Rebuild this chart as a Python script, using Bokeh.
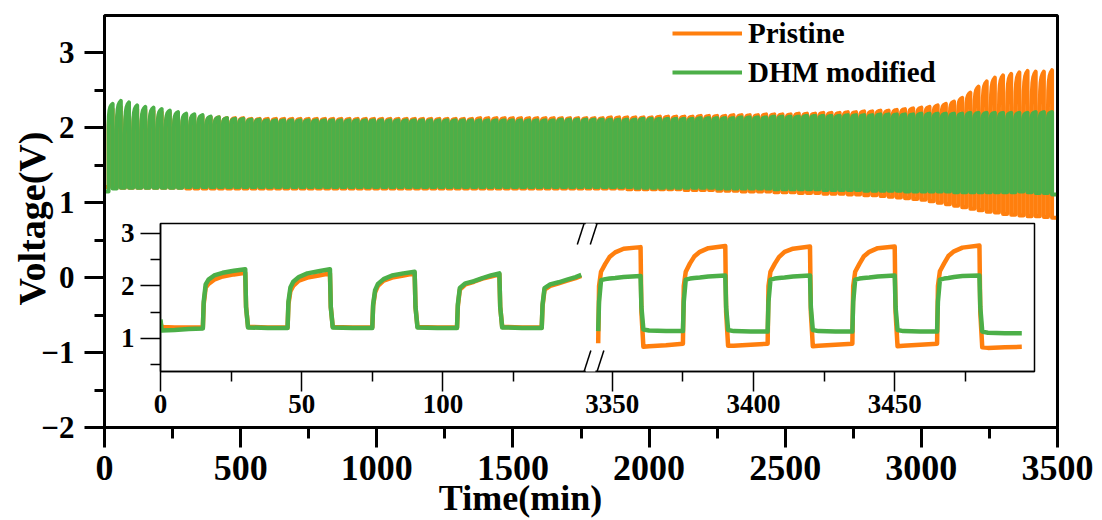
import math

from bokeh.core.properties import value
from bokeh.embed import file_html
from bokeh.models import Arrow, FixedTicker, Legend, LegendItem, Range1d
from bokeh.plotting import figure
from bokeh.resources import INLINE

FONT = "Liberation Serif"
ORANGE = "#FF7F0E"
GREEN = "#4CAF48"

# ---------------------------------------------------------------------------
# Galvanostatic cycling: 15 min discharge followed by 15 min charge per cycle
# ---------------------------------------------------------------------------
PERIOD = 30
HALF = 15

# End-of-charge voltage of every cycle (V)
pristine_peak = [
    2.25, 2.28, 2.27, 2.25, 2.24, 2.22, 2.21, 2.20, 2.18, 2.17,
    2.16, 2.15, 2.14, 2.14, 2.13, 2.13, 2.13, 2.12, 2.12, 2.12,
    2.12, 2.12, 2.12, 2.12, 2.12, 2.12, 2.12, 2.12, 2.12, 2.12,
    2.12, 2.12, 2.12, 2.12, 2.12, 2.12, 2.12, 2.12, 2.12, 2.12,
    2.12, 2.12, 2.12, 2.12, 2.12, 2.13, 2.13, 2.13, 2.13, 2.13,
    2.13, 2.13, 2.13, 2.13, 2.13, 2.13, 2.13, 2.13, 2.13, 2.13,
    2.13, 2.14, 2.14, 2.14, 2.14, 2.14, 2.14, 2.15, 2.15, 2.15,
    2.15, 2.15, 2.16, 2.16, 2.16, 2.16, 2.17, 2.17, 2.17, 2.17,
    2.18, 2.18, 2.18, 2.18, 2.19, 2.19, 2.19, 2.20, 2.20, 2.20,
    2.21, 2.21, 2.22, 2.22, 2.23, 2.23, 2.24, 2.25, 2.26, 2.27,
    2.28, 2.30, 2.32, 2.35, 2.40, 2.47, 2.55, 2.62, 2.67, 2.70,
    2.72, 2.74, 2.76, 2.75, 2.75, 2.77,
]
dhm_peak = [
    2.32, 2.36, 2.34, 2.30, 2.28, 2.27, 2.25, 2.23, 2.21, 2.19,
    2.18, 2.17, 2.15, 2.14, 2.13, 2.12, 2.12, 2.11, 2.11, 2.10,
    2.10, 2.10, 2.10, 2.10, 2.10, 2.10, 2.10, 2.10, 2.10, 2.10,
    2.10, 2.10, 2.10, 2.10, 2.10, 2.10, 2.10, 2.10, 2.10, 2.10,
    2.10, 2.10, 2.10, 2.10, 2.10, 2.10, 2.10, 2.10, 2.10, 2.10,
    2.10, 2.10, 2.10, 2.10, 2.10, 2.11, 2.11, 2.11, 2.11, 2.11,
    2.11, 2.11, 2.11, 2.11, 2.11, 2.12, 2.12, 2.12, 2.12, 2.12,
    2.12, 2.12, 2.13, 2.13, 2.13, 2.13, 2.13, 2.14, 2.14, 2.14,
    2.14, 2.15, 2.15, 2.15, 2.15, 2.16, 2.16, 2.16, 2.16, 2.16,
    2.17, 2.17, 2.17, 2.17, 2.18, 2.18, 2.18, 2.18, 2.18, 2.19,
    2.19, 2.19, 2.19, 2.19, 2.19, 2.20, 2.20, 2.20, 2.20, 2.20,
    2.20, 2.20, 2.20, 2.21, 2.21, 2.21,
]

# Voltage reached right after the step to charging current (V)
pristine_jump = [
    1.97, 1.90, 1.88, 1.93, 1.94, 1.96, 1.97, 1.98, 1.99, 2.00,
    2.01, 2.02, 2.03, 2.04, 2.05, 2.06, 2.07, 2.07, 2.07, 2.07,
    2.07, 2.07, 2.07, 2.07, 2.07, 2.07, 2.07, 2.07, 2.07, 2.07,
    2.07, 2.07, 2.07, 2.07, 2.07, 2.07, 2.07, 2.07, 2.07, 2.07,
    2.07, 2.07, 2.07, 2.07, 2.07, 2.08, 2.08, 2.08, 2.08, 2.08,
    2.08, 2.08, 2.08, 2.08, 2.08, 2.08, 2.08, 2.08, 2.08, 2.08,
    2.08, 2.09, 2.09, 2.09, 2.09, 2.09, 2.09, 2.10, 2.10, 2.10,
    2.10, 2.10, 2.11, 2.11, 2.11, 2.11, 2.12, 2.12, 2.12, 2.12,
    2.13, 2.13, 2.13, 2.13, 2.14, 2.14, 2.14, 2.15, 2.15, 2.15,
    2.16, 2.16, 2.16, 2.16, 2.17, 2.17, 2.17, 2.18, 2.18, 2.18,
    2.18, 2.19, 2.19, 2.20, 2.21, 2.22, 2.23, 2.24, 2.25, 2.26,
    2.27, 2.27, 2.27, 2.27, 2.27, 2.27,
]
dhm_jump = [
    2.02, 1.97, 1.92, 1.96, 1.96, 1.98, 1.99, 2.00, 2.01, 2.02,
    2.03, 2.04, 2.04, 2.05, 2.05, 2.05, 2.06, 2.06, 2.06, 2.06,
    2.06, 2.06, 2.06, 2.06, 2.06, 2.06, 2.06, 2.06, 2.06, 2.06,
    2.06, 2.06, 2.06, 2.06, 2.06, 2.06, 2.06, 2.06, 2.06, 2.06,
    2.06, 2.06, 2.06, 2.06, 2.06, 2.06, 2.06, 2.06, 2.06, 2.06,
    2.06, 2.06, 2.06, 2.06, 2.06, 2.07, 2.07, 2.07, 2.07, 2.07,
    2.07, 2.07, 2.07, 2.07, 2.07, 2.08, 2.08, 2.08, 2.08, 2.08,
    2.08, 2.08, 2.09, 2.09, 2.09, 2.09, 2.09, 2.10, 2.10, 2.10,
    2.10, 2.11, 2.11, 2.11, 2.11, 2.12, 2.12, 2.12, 2.12, 2.12,
    2.12, 2.12, 2.12, 2.12, 2.13, 2.13, 2.13, 2.13, 2.13, 2.13,
    2.13, 2.13, 2.13, 2.13, 2.13, 2.13, 2.13, 2.13, 2.13, 2.13,
    2.12, 2.12, 2.12, 2.13, 2.13, 2.13,
]

# Discharge plateau voltage of every cycle (V); one more than the charges
pristine_trough = [
    1.21, 1.20, 1.20, 1.20, 1.20, 1.20, 1.20, 1.20, 1.20, 1.20,
    1.19, 1.19, 1.19, 1.19, 1.19, 1.19, 1.19, 1.19, 1.19, 1.19,
    1.19, 1.19, 1.19, 1.19, 1.19, 1.19, 1.19, 1.19, 1.19, 1.19,
    1.19, 1.19, 1.19, 1.19, 1.19, 1.19, 1.19, 1.19, 1.19, 1.19,
    1.19, 1.19, 1.19, 1.19, 1.19, 1.19, 1.19, 1.19, 1.19, 1.19,
    1.19, 1.19, 1.19, 1.19, 1.19, 1.19, 1.19, 1.19, 1.19, 1.19,
    1.19, 1.19, 1.19, 1.19, 1.18, 1.18, 1.18, 1.18, 1.18, 1.18,
    1.18, 1.17, 1.17, 1.17, 1.17, 1.16, 1.16, 1.16, 1.15, 1.15,
    1.15, 1.15, 1.14, 1.14, 1.14, 1.13, 1.13, 1.13, 1.12, 1.12,
    1.12, 1.11, 1.11, 1.10, 1.10, 1.09, 1.08, 1.07, 1.06, 1.05,
    1.04, 1.02, 1.00, 0.98, 0.96, 0.94, 0.92, 0.90, 0.88, 0.87,
    0.85, 0.84, 0.83, 0.82, 0.82, 0.81, 0.80,
]
dhm_trough = [
    1.15, 1.19, 1.20, 1.20, 1.20, 1.20, 1.20, 1.20, 1.20, 1.20,
    1.21, 1.21, 1.21, 1.21, 1.21, 1.21, 1.21, 1.21, 1.21, 1.21,
    1.21, 1.21, 1.21, 1.21, 1.21, 1.21, 1.21, 1.21, 1.21, 1.21,
    1.21, 1.21, 1.21, 1.21, 1.21, 1.21, 1.21, 1.21, 1.21, 1.21,
    1.21, 1.21, 1.21, 1.21, 1.21, 1.21, 1.21, 1.21, 1.21, 1.21,
    1.21, 1.21, 1.21, 1.21, 1.21, 1.21, 1.21, 1.21, 1.21, 1.21,
    1.21, 1.21, 1.21, 1.21, 1.21, 1.20, 1.20, 1.20, 1.20, 1.20,
    1.20, 1.20, 1.20, 1.20, 1.20, 1.19, 1.19, 1.19, 1.19, 1.19,
    1.19, 1.19, 1.18, 1.18, 1.18, 1.18, 1.18, 1.18, 1.17, 1.17,
    1.17, 1.17, 1.17, 1.16, 1.16, 1.16, 1.16, 1.16, 1.15, 1.15,
    1.15, 1.15, 1.15, 1.15, 1.14, 1.14, 1.14, 1.14, 1.14, 1.14,
    1.14, 1.14, 1.15, 1.14, 1.13, 1.13, 1.11,
]

# Shape of a charge step: minutes after the current step and the share of
# the rise from the step voltage to the end-of-charge voltage
charge_profile_min = [0, 1, 3, 6, 10, 15]
charge_profile_share = [0.0, 0.45, 0.70, 0.85, 0.94, 1.0]

# ---------------------------------------------------------------------------
# Inset: first cycles and last cycles at full resolution
# ---------------------------------------------------------------------------
early_t = [
    0, 0.4, 5, 10, 15,
    15.3, 16, 17, 19, 22, 26, 30, 30.3, 31, 38, 45,
    45.3, 46, 47, 49, 52, 56, 60, 60.3, 61, 68, 75,
    75.3, 76, 77, 79, 82, 86, 90, 90.3, 91, 98, 105,
    105.3, 106, 108, 111, 114, 117, 120, 120.3, 121, 128, 135,
    135.3, 136, 138, 141, 144, 147, 149,
]
early_pristine = [
    1.30, 1.22, 1.21, 1.21, 1.21,
    1.65, 1.97, 2.04, 2.12, 2.18, 2.22, 2.25, 1.60, 1.22, 1.21, 1.21,
    1.65, 1.90, 2.00, 2.10, 2.16, 2.20, 2.24, 1.60, 1.22, 1.21, 1.21,
    1.62, 1.88, 2.00, 2.10, 2.16, 2.20, 2.24, 1.60, 1.22, 1.21, 1.21,
    1.62, 1.93, 2.03, 2.08, 2.14, 2.18, 2.22, 1.60, 1.22, 1.21, 1.21,
    1.62, 1.93, 2.00, 2.05, 2.10, 2.15, 2.19,
]
early_dhm = [
    1.36, 1.15, 1.16, 1.18, 1.19,
    1.70, 2.03, 2.12, 2.20, 2.25, 2.29, 2.32, 1.60, 1.21, 1.20, 1.20,
    1.70, 1.97, 2.08, 2.17, 2.24, 2.28, 2.32, 1.60, 1.21, 1.20, 1.20,
    1.65, 1.92, 2.04, 2.13, 2.20, 2.24, 2.27, 1.60, 1.21, 1.20, 1.20,
    1.65, 1.96, 2.05, 2.09, 2.15, 2.20, 2.24, 1.60, 1.21, 1.20, 1.20,
    1.65, 1.96, 2.03, 2.07, 2.12, 2.17, 2.21,
]

late_t = [
    3345, 3345.3, 3346, 3347.5, 3349, 3351, 3354, 3360, 3360.3, 3361, 3363, 3369,
    3375, 3375.3, 3376, 3377.5, 3379, 3381, 3384, 3390, 3390.3, 3391, 3393, 3399,
    3405, 3405.3, 3406, 3407.5, 3409, 3411, 3414, 3420, 3420.3, 3421, 3423, 3429,
    3435, 3435.3, 3436, 3437.5, 3439, 3441, 3444, 3450, 3450.3, 3451, 3453, 3459,
    3465, 3465.3, 3466, 3467.5, 3469, 3471, 3474, 3480, 3480.3, 3481, 3483, 3489,
    3495,
]
late_pristine = [
    0.91, 2.00, 2.27, 2.42, 2.55, 2.64, 2.71, 2.74, 1.50, 0.84, 0.85, 0.87,
    0.90, 2.00, 2.27, 2.43, 2.56, 2.65, 2.72, 2.76, 1.50, 0.86, 0.86, 0.88,
    0.90, 2.00, 2.27, 2.42, 2.55, 2.65, 2.71, 2.75, 1.50, 0.85, 0.86, 0.88,
    0.90, 2.00, 2.27, 2.42, 2.56, 2.65, 2.72, 2.75, 1.50, 0.85, 0.86, 0.88,
    0.90, 2.00, 2.28, 2.43, 2.57, 2.66, 2.73, 2.77, 1.50, 0.83, 0.82, 0.83,
    0.84,
]
late_dhm = [
    1.14, 1.70, 2.11, 2.13, 2.14, 2.15, 2.17, 2.19, 1.60, 1.17, 1.15, 1.14,
    1.14, 1.70, 2.12, 2.14, 2.15, 2.16, 2.18, 2.20, 1.60, 1.16, 1.14, 1.13,
    1.13, 1.70, 2.12, 2.14, 2.15, 2.16, 2.18, 2.20, 1.60, 1.16, 1.14, 1.13,
    1.13, 1.70, 2.12, 2.14, 2.15, 2.16, 2.18, 2.20, 1.60, 1.16, 1.14, 1.13,
    1.13, 1.70, 2.12, 2.14, 2.15, 2.17, 2.19, 2.20, 1.60, 1.13, 1.11, 1.10,
    1.10,
]

main_x_ticks = [0, 500, 1000, 1500, 2000, 2500, 3000, 3500]
main_x_minor = [250, 750, 1250, 1750, 2250, 2750, 3250]
main_y_ticks = [-2, -1, 0, 1, 2, 3]
main_y_minor = [-1.5, -0.5, 0.5, 1.5, 2.5]

inset_left_ticks = [0, 50, 100]
inset_left_minor = [25, 75, 125]
inset_right_ticks = [3350, 3400, 3450]
inset_right_minor = [3375, 3425, 3475]
inset_y_ticks = [1, 2, 3]
inset_y_minor = [0.5, 1.5, 2.5]

# Broken time axis of the inset: left part ends, a short gap, right part
LEFT_END = 149
RIGHT_START = 3345
GAP = 6


def inset_pos(t):
    return t if t <= LEFT_END else t - RIGHT_START + LEFT_END + GAP


def cycle_trace(trough, jump, peak):
    xs, ys = [], []
    for k, low in enumerate(trough):
        t0 = k * PERIOD
        xs += [t0, t0 + HALF]
        ys += [low, low]
        if k < len(peak):
            for dt, share in zip(charge_profile_min, charge_profile_share):
                xs.append(t0 + HALF + dt)
                ys.append(jump[k] + share * (peak[k] - jump[k]))
    return xs, ys


def style_axis(axis, size, tick_out, minor_out, width, standoff):
    axis.major_label_text_font = FONT
    axis.major_label_text_font_style = "bold"
    axis.major_label_text_font_size = size
    axis.major_label_text_color = "black"
    axis.major_label_standoff = standoff
    axis.axis_line_width = width
    axis.axis_line_color = "black"
    axis.major_tick_line_width = width
    axis.minor_tick_line_width = width
    axis.major_tick_line_color = "black"
    axis.minor_tick_line_color = "black"
    axis.major_tick_in = 0
    axis.minor_tick_in = 0
    axis.major_tick_out = tick_out
    axis.minor_tick_out = minor_out


def place(fig, left, top):
    fig.styles = {"position": "absolute", "left": f"{left}px", "top": f"{top}px"}


# ---------------------------------------------------------------------------
# Main figure
# ---------------------------------------------------------------------------
W, H = 1102, 520
p = figure(
    width=W, height=H,
    x_range=Range1d(0, 3500), y_range=Range1d(-2, 3.5),
    output_backend="svg", toolbar_location=None,
    min_border_left=104, min_border_right=45,
    min_border_top=15, min_border_bottom=93,
)
p.grid.visible = False
p.outline_line_color = "black"
p.outline_line_width = 3
p.background_fill_color = "white"
p.border_fill_color = "white"

p.xaxis.ticker = FixedTicker(ticks=main_x_ticks, minor_ticks=main_x_minor)
p.yaxis.ticker = FixedTicker(ticks=main_y_ticks, minor_ticks=main_y_minor)
style_axis(p.xaxis[0], "36px", 20, 11, 3, 8)
style_axis(p.yaxis[0], "31px", 20, 10, 3, 10)

ox, oy = cycle_trace(pristine_trough, pristine_jump, pristine_peak)
gx, gy = cycle_trace(dhm_trough, dhm_jump, dhm_peak)
r_o = p.line(ox, oy, line_color=ORANGE, line_width=4, line_join="round")
r_g = p.line(gx, gy, line_color=GREEN, line_width=4, line_join="round")

legend = Legend(
    items=[LegendItem(label="Pristine", renderers=[r_o]),
           LegendItem(label="DHM modified", renderers=[r_g])],
    location=(568, 337),
    glyph_width=70, glyph_height=36, spacing=3, padding=0, margin=0,
    label_standoff=6,
    label_text_font=FONT, label_text_font_style="bold",
    label_text_font_size="29px", label_text_color="black",
    border_line_color=None, background_fill_alpha=0,
)
p.add_layout(legend)

# ---------------------------------------------------------------------------
# Axis titles, on a transparent layer in page pixels (y counted downwards)
# ---------------------------------------------------------------------------
titles = figure(
    width=W, height=H,
    x_range=Range1d(0, W), y_range=Range1d(H, 0),
    x_axis_type=None, y_axis_type=None,
    output_backend="svg", toolbar_location=None,
    min_border=0,
)
titles.grid.visible = False
titles.outline_line_color = None
titles.background_fill_alpha = 0
titles.border_fill_alpha = 0
titles.text(x=[520], y=[497], text=["Time(min)"],
            text_font=value(FONT), text_font_style="bold",
            text_font_size="36px", text_color="black",
            text_align="center", text_baseline="alphabetic")
titles.text(x=[31], y=[218], text=["Voltage(V)"], angle=math.pi / 2,
            text_font=value(FONT), text_font_style="bold",
            text_font_size="38px", text_color="black",
            text_align="center", text_baseline="alphabetic")
place(titles, 0, 0)

# ---------------------------------------------------------------------------
# Inset figure with the broken time axis
# ---------------------------------------------------------------------------
IN_L, IN_R, IN_T, IN_B = 60, 20, 30, 60
IN_FRAME_W, IN_FRAME_H = 874, 148
Y_LO, Y_HI = 0.37, 3.19
inset = figure(
    width=IN_L + IN_FRAME_W + IN_R, height=IN_T + IN_FRAME_H + IN_B,
    x_range=Range1d(0, inset_pos(3495) + 4.5), y_range=Range1d(Y_LO, Y_HI),
    output_backend="svg", toolbar_location=None,
    min_border_left=IN_L, min_border_right=IN_R,
    min_border_top=IN_T, min_border_bottom=IN_B,
)
inset.grid.visible = False
inset.outline_line_color = "black"
inset.outline_line_width = 1.5
inset.background_fill_color = "white"
inset.border_fill_alpha = 0
place(inset, 160 - IN_L, 223 - IN_T)

x_major = [inset_pos(t) for t in inset_left_ticks + inset_right_ticks]
x_minor = [inset_pos(t) for t in inset_left_minor + inset_right_minor]
inset.xaxis.ticker = FixedTicker(ticks=x_major, minor_ticks=x_minor)
inset.xaxis.major_label_overrides = {
    inset_pos(t): str(t) for t in inset_left_ticks + inset_right_ticks
}
inset.yaxis.ticker = FixedTicker(ticks=inset_y_ticks, minor_ticks=inset_y_minor)
style_axis(inset.xaxis[0], "27px", 20, 10, 1.5, 3)
style_axis(inset.yaxis[0], "27px", 20, 10, 1.5, 6)

for ts, vs_o, vs_g in ((early_t, early_pristine, early_dhm),
                       (late_t, late_pristine, late_dhm)):
    xs = [inset_pos(t) for t in ts]
    inset.line(xs, vs_o, line_color=ORANGE, line_width=4.5, line_join="round")
    inset.line(xs, vs_g, line_color=GREEN, line_width=4.5, line_join="round")

# break marks on the top and bottom edges of the inset frame
for yc in (Y_HI, Y_LO):
    inset.add_layout(Arrow(end=None, x_start=150.6, y_start=yc, x_end=154.0, y_end=yc,
                           line_color="white", line_width=4))
    for xc in (150.0, 154.6):
        inset.add_layout(Arrow(end=None, x_start=xc - 2.4, y_start=yc - 0.4,
                               x_end=xc + 2.4, y_end=yc + 0.4,
                               line_color="black", line_width=1.5))

open("out.html", "w").write(file_html([p, inset, titles], INLINE))
